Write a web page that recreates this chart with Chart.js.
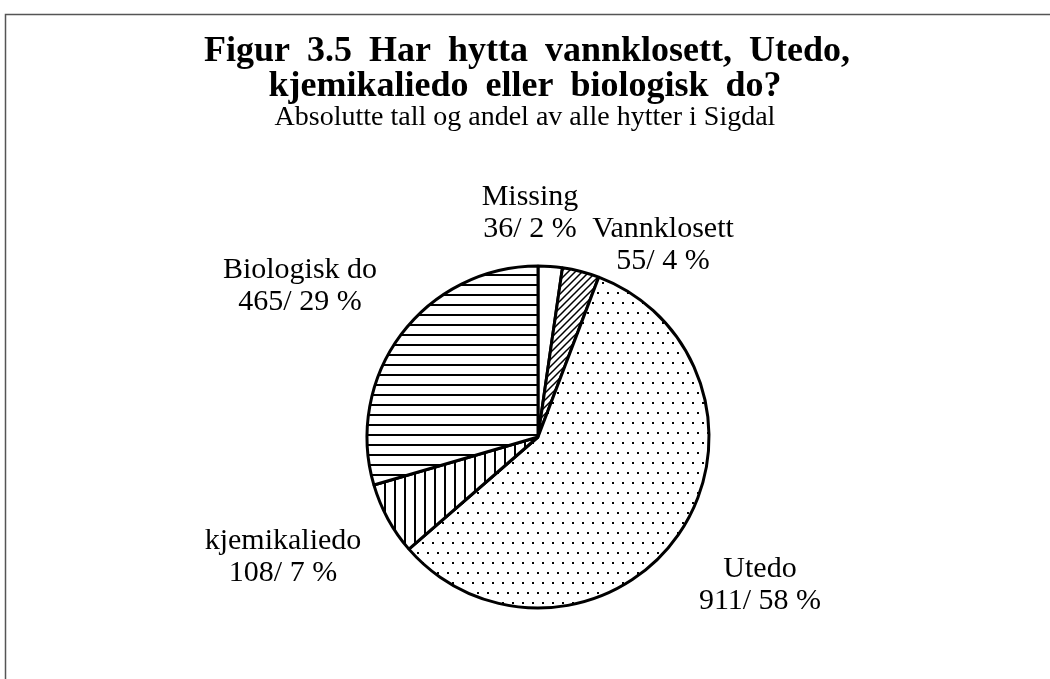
<!DOCTYPE html>
<html>
<head>
<meta charset="utf-8">
<script src="https://cdn.jsdelivr.net/npm/chart.js@4"></script>
<style>
  html, body { margin: 0; padding: 0; background: #fff; }
  #wrap { width: 1050px; height: 679px; }
</style>
</head>
<body>
<div id="wrap"><canvas id="myChart" width="1050" height="679"></canvas></div>
<script>
//Data
const categories = ["Missing", "Vannklosett", "Utedo", "kjemikaliedo", "Biologisk do"];
const counts = [36, 55, 911, 108, 465];
const shares = [2, 4, 58, 7, 29];

const titleLines = ["Figur 3.5 Har hytta vannklosett, Utedo,", "kjemikaliedo eller biologisk do?"];
const subtitleText = "Absolutte tall og andel av alle hytter i Sigdal";

//pattern helpers
function makeTile(w, h, draw) {
  const c = document.createElement("canvas");
  c.width = w;
  c.height = h;
  const g = c.getContext("2d");
  g.fillStyle = "#fff";
  g.fillRect(0, 0, w, h);
  g.fillStyle = "#000";
  g.strokeStyle = "#000";
  draw(g);
  return c;
}

var ctx = document.querySelector("#myChart").getContext("2d");

const hLines = ctx.createPattern(makeTile(10, 10, (g) => g.fillRect(0, 4, 10, 2)), "repeat");
const vLines = ctx.createPattern(makeTile(10, 10, (g) => g.fillRect(4, 0, 2, 10)), "repeat");
const diag = ctx.createPattern(
  makeTile(7, 7, (g) => {
    g.lineWidth = 1.5;
    g.beginPath();
    g.moveTo(-1, 8);
    g.lineTo(8, -1);
    g.moveTo(-1, 1);
    g.lineTo(1, -1);
    g.moveTo(6, 8);
    g.lineTo(8, 6);
    g.stroke();
  }),
  "repeat"
);
const dots = ctx.createPattern(
  makeTile(10, 20, (g) => {
    g.fillRect(2, 2, 2, 2);
    g.fillRect(7, 12, 2, 2);
  }),
  "repeat"
);
const fills = ["#fff", diag, dots, vLines, hLines];

// where each label block is centred (x) and its first baseline (y)
const labelSpots = [
  { x: 530, y: 205 },
  { x: 663, y: 237 },
  { x: 760, y: 577 },
  { x: 283, y: 549 },
  { x: 300, y: 278 },
];

const paperPlugin = {
  id: "paper",
  beforeDraw(chart) {
    const c = chart.ctx;
    c.save();
    c.fillStyle = "#fff";
    c.fillRect(0, 0, chart.width, chart.height);
    c.strokeStyle = "#555";
    c.lineWidth = 1.5;
    c.beginPath();
    c.moveTo(5.5, 679);
    c.lineTo(5.5, 14.5);
    c.lineTo(1050, 14.5);
    c.stroke();

    c.fillStyle = "#000";
    c.textAlign = "center";
    c.textBaseline = "alphabetic";
    c.font = "bold 36px 'Liberation Serif'";
    c.wordSpacing = "8px";
    c.fillText(titleLines[0], 527, 61);
    c.fillText(titleLines[1], 525, 96);
    c.wordSpacing = "0px";
    c.font = "28px 'Liberation Serif'";
    c.fillText(subtitleText, 525, 125);
    c.restore();
  },
  afterDraw(chart) {
    const c = chart.ctx;
    c.save();
    c.fillStyle = "#000";
    c.textAlign = "center";
    c.font = "30px 'Liberation Serif'";
    categories.forEach((name, i) => {
      const p = labelSpots[i];
      c.fillText(name, p.x, p.y);
      c.fillText(counts[i] + "/ " + shares[i] + " %", p.x, p.y + 32);
    });
    c.restore();
  },
};

var myChart = new Chart(ctx, {
  type: "pie",
  data: {
    labels: categories,
    datasets: [
      {
        data: counts,
        backgroundColor: fills,
        borderColor: "#000",
        borderWidth: 3,
        hoverOffset: 0,
        offset: 0,
        radius: 171,
      },
    ],
  },
  options: {
    responsive: false,
    animation: false,
    events: [],
    layout: {
      padding: { left: 367, right: 341, top: 266, bottom: 71 },
    },
    plugins: {
      legend: { display: false },
      tooltip: { enabled: false },
      title: { display: false },
    },
  },
  plugins: [paperPlugin],
});
</script>
</body>
</html>
